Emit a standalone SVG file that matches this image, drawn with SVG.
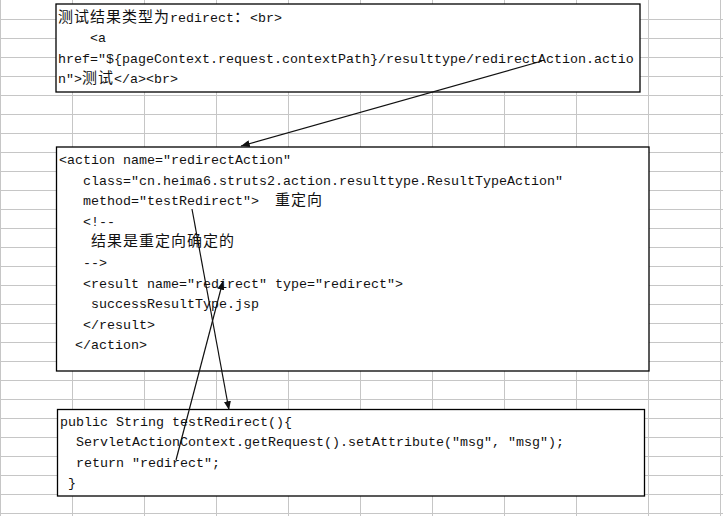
<svg xmlns="http://www.w3.org/2000/svg" width="723" height="516" viewBox="0 0 723 516">
<style>
.grid line{stroke:#c6c6c6;stroke-width:1}
.box{fill:#fff;stroke:#000;stroke-width:1.3}
.t{font-family:"Liberation Mono","Noto Sans CJK SC",monospace;font-size:13.33px;fill:#111}
.c{font-family:"Noto Sans CJK SC",sans-serif;font-size:15px;letter-spacing:1px}
.conn line{stroke:#111;stroke-width:1.2;fill:none}
</style>
<defs>
<marker id="ah" viewBox="0 0 10 8" refX="10" refY="4" markerWidth="9" markerHeight="7" markerUnits="userSpaceOnUse" orient="auto">
<path d="M0,0 L10,4 L0,8 Z" fill="#111"/>
</marker>
</defs>
<rect width="723" height="516" fill="#fff"/>
<g class="grid">
<line x1="0.5" y1="0" x2="0.5" y2="516"/>
<line x1="72.5" y1="0" x2="72.5" y2="516"/>
<line x1="144.5" y1="0" x2="144.5" y2="516"/>
<line x1="216.5" y1="0" x2="216.5" y2="516"/>
<line x1="288.5" y1="0" x2="288.5" y2="516"/>
<line x1="360.5" y1="0" x2="360.5" y2="516"/>
<line x1="432.5" y1="0" x2="432.5" y2="516"/>
<line x1="504.5" y1="0" x2="504.5" y2="516"/>
<line x1="576.5" y1="0" x2="576.5" y2="516"/>
<line x1="648.5" y1="0" x2="648.5" y2="516"/>
<line x1="720.5" y1="0" x2="720.5" y2="516"/>
<line x1="0" y1="19.5" x2="723" y2="19.5"/>
<line x1="0" y1="38.5" x2="723" y2="38.5"/>
<line x1="0" y1="57.5" x2="723" y2="57.5"/>
<line x1="0" y1="76.5" x2="723" y2="76.5"/>
<line x1="0" y1="95.5" x2="723" y2="95.5"/>
<line x1="0" y1="114.5" x2="723" y2="114.5"/>
<line x1="0" y1="133.5" x2="723" y2="133.5"/>
<line x1="0" y1="152.5" x2="723" y2="152.5"/>
<line x1="0" y1="171.5" x2="723" y2="171.5"/>
<line x1="0" y1="190.5" x2="723" y2="190.5"/>
<line x1="0" y1="209.5" x2="723" y2="209.5"/>
<line x1="0" y1="228.5" x2="723" y2="228.5"/>
<line x1="0" y1="247.5" x2="723" y2="247.5"/>
<line x1="0" y1="266.5" x2="723" y2="266.5"/>
<line x1="0" y1="285.5" x2="723" y2="285.5"/>
<line x1="0" y1="304.5" x2="723" y2="304.5"/>
<line x1="0" y1="323.5" x2="723" y2="323.5"/>
<line x1="0" y1="342.5" x2="723" y2="342.5"/>
<line x1="0" y1="361.5" x2="723" y2="361.5"/>
<line x1="0" y1="380.5" x2="723" y2="380.5"/>
<line x1="0" y1="399.5" x2="723" y2="399.5"/>
<line x1="0" y1="418.5" x2="723" y2="418.5"/>
<line x1="0" y1="437.5" x2="723" y2="437.5"/>
<line x1="0" y1="456.5" x2="723" y2="456.5"/>
<line x1="0" y1="475.5" x2="723" y2="475.5"/>
<line x1="0" y1="494.5" x2="723" y2="494.5"/>
<line x1="0" y1="513.5" x2="723" y2="513.5"/>
</g>
<g id="node-jsp">
<rect class="box" x="56" y="4" width="584" height="88"/>
<text class="t" y="21.5"><tspan class="c" x="58">测试结果类型为</tspan><tspan x="170">redirect</tspan><tspan class="c" x="234">：</tspan><tspan x="250">&lt;br&gt;</tspan></text>
<text class="t" x="90" y="42">&lt;a</text>
<text class="t" x="58" y="62.5">href="${pageContext.request.contextPath}/resulttype/redirectAction.actio</text>
<text class="t" y="83"><tspan x="58">n"&gt;</tspan><tspan class="c" x="82">测试</tspan><tspan x="114">&lt;/a&gt;&lt;br&gt;</tspan></text>
</g>
<g id="node-action">
<rect class="box" x="56.5" y="147" width="592.5" height="224"/>
<text class="t" x="59" y="164">&lt;action name="redirectAction"</text>
<text class="t" x="83" y="184.6">class="cn.heima6.struts2.action.resulttype.ResultTypeAction"</text>
<text class="t" y="205.2"><tspan x="83">method="testRedirect"&gt;</tspan><tspan class="c" x="275">重定向</tspan></text>
<text class="t" x="83" y="225.8">&lt;!--</text>
<text class="t" y="246.4"><tspan class="c" x="91">结果是重定向确定的</tspan></text>
<text class="t" x="83" y="267">--&gt;</text>
<text class="t" x="83" y="287.6">&lt;result name="redirect" type="redirect"&gt;</text>
<text class="t" x="91" y="308.2">successResultType.jsp</text>
<text class="t" x="83" y="328.8">&lt;/result&gt;</text>
<text class="t" x="75" y="349.4">&lt;/action&gt;</text>
</g>
<g id="node-method">
<rect class="box" x="57.5" y="409.5" width="587" height="86.5"/>
<text class="t" x="60" y="426">public String testRedirect(){</text>
<text class="t" x="76" y="446.3">ServletActionContext.getRequest().setAttribute("msg", "msg");</text>
<text class="t" x="76" y="466.5">return "redirect";</text>
<text class="t" x="68" y="486.5">}</text>
</g>
<g class="conn" id="connectors">
<line x1="542" y1="61" x2="241" y2="146" marker-end="url(#ah)"/>
<line x1="192" y1="209" x2="229" y2="410" marker-end="url(#ah)"/>
<line x1="176" y1="460" x2="223" y2="281" marker-end="url(#ah)"/>
</g>
</svg>
